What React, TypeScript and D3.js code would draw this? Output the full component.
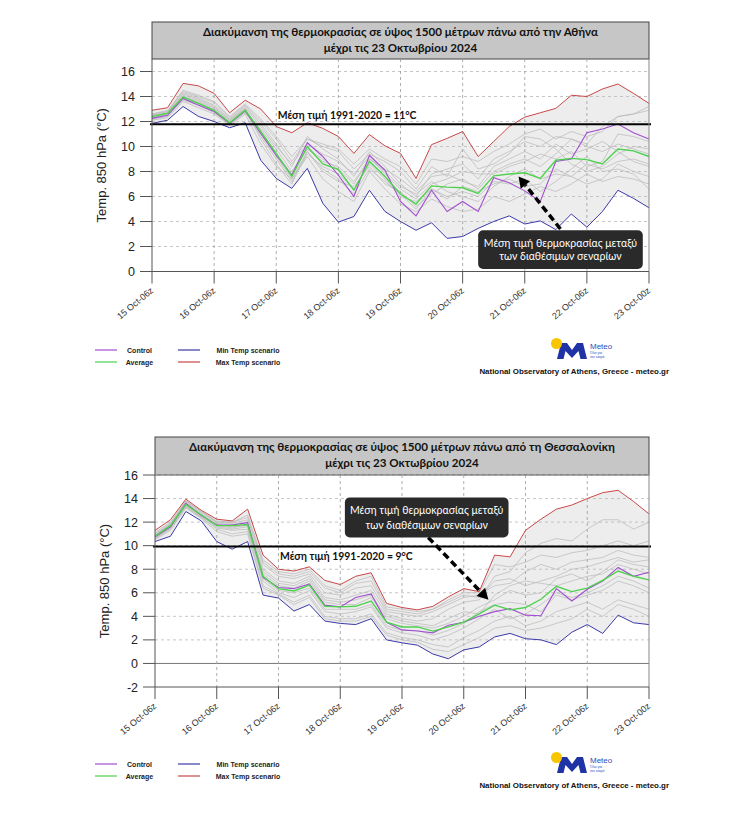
import * as d3 from "d3";

// x positions: 6-hourly steps from 15 Oct 06z, 33 steps
const tickLabels = [
  "15 Oct-06z", "16 Oct-06z", "17 Oct-06z", "18 Oct-06z", "19 Oct-06z",
  "20 Oct-06z", "21 Oct-06z", "22 Oct-06z", "23 Oct-00z",
];
const tickSteps = [0, 4, 8, 12, 16, 20, 24, 28, 32];

// ---- Athens ----
const athMax = [12.9, 13.1, 15.05, 14.85, 14.25, 12.7, 13.7, 13.0, 11.6, 11.1, 11.9, 11.45, 10.8, 9.45, 10.95, 10.05, 9.45, 7.45, 10.15, 10.65, 11.2, 9.2, 10.4, 11.6, 12.35, 12.7, 13.05, 14.1, 14.0, 14.6, 15.0, 14.25, 13.45];
const athMin = [11.85, 12.1, 13.2, 12.4, 12.0, 11.5, 11.9, 8.9, 7.45, 6.65, 8.25, 5.45, 3.95, 4.4, 6.5, 4.8, 4.0, 3.3, 3.9, 2.65, 2.8, 3.45, 4.0, 4.45, 3.8, 4.05, 3.35, 4.6, 3.55, 4.8, 6.5, 5.85, 5.1];
const athAvg = [12.4, 12.65, 13.95, 13.45, 12.9, 11.9, 12.9, 11.2, 9.45, 7.6, 10.0, 8.6, 8.15, 6.5, 8.8, 7.6, 6.2, 5.4, 6.85, 6.75, 6.7, 6.25, 7.65, 7.8, 7.9, 7.45, 8.9, 9.05, 8.95, 8.6, 9.8, 9.65, 9.2];
const athCtrl = [12.25, 12.5, 13.85, 13.3, 12.8, 11.85, 12.85, 11.05, 9.3, 7.7, 10.3, 9.2, 7.7, 6.0, 9.3, 8.1, 5.6, 4.45, 6.5, 4.8, 5.6, 4.8, 7.5, 7.1, 6.45, 5.6, 8.8, 9.0, 11.1, 11.4, 11.8, 11.1, 10.6];
const athMembers = [
  [12.5, 12.8, 14.3, 13.9, 13.3, 12.2, 13.2, 11.8, 10.2, 8.4, 10.8, 9.8, 9.0, 7.6, 9.6, 8.4, 7.0, 6.0, 7.8, 8.2, 8.6, 7.4, 9.0, 9.6, 10.4, 10.0, 10.8, 10.6, 10.2, 11.6, 12.4, 12.6, 12.9],
  [12.3, 12.6, 14.0, 13.6, 13.0, 12.0, 13.0, 10.6, 8.6, 7.0, 9.6, 8.0, 7.2, 6.8, 8.4, 7.0, 6.4, 5.2, 6.2, 7.0, 7.4, 6.6, 8.0, 8.6, 9.0, 8.4, 9.4, 10.6, 10.0, 9.6, 10.2, 9.8, 9.4],
  [12.2, 12.4, 13.8, 13.4, 12.8, 11.8, 12.7, 11.4, 9.8, 8.0, 9.8, 8.8, 8.4, 7.2, 9.0, 8.0, 6.8, 6.2, 7.2, 6.4, 6.0, 5.6, 6.8, 7.6, 8.2, 7.4, 7.8, 7.6, 7.0, 7.4, 8.6, 8.0, 7.6],
  [12.6, 12.9, 14.4, 14.0, 13.5, 12.3, 13.3, 12.0, 10.6, 8.8, 10.6, 10.0, 9.6, 8.2, 9.4, 8.8, 8.0, 6.6, 8.4, 7.6, 9.8, 8.2, 8.6, 9.4, 10.8, 10.6, 9.8, 8.6, 8.0, 8.4, 9.4, 10.0, 9.8],
  [12.1, 12.3, 13.6, 13.1, 12.6, 11.7, 12.6, 10.2, 8.4, 7.4, 9.2, 7.4, 6.4, 5.6, 8.0, 6.6, 5.4, 4.8, 5.8, 5.2, 4.8, 5.0, 6.0, 5.6, 6.2, 6.8, 6.4, 7.0, 7.8, 7.2, 7.6, 7.4, 7.0],
  [12.4, 12.7, 14.1, 13.7, 13.1, 12.1, 13.1, 11.6, 10.0, 8.6, 10.2, 9.4, 8.8, 7.8, 9.2, 7.8, 6.6, 5.8, 7.0, 7.4, 8.0, 7.8, 7.8, 8.4, 8.8, 9.4, 9.0, 9.6, 8.4, 8.8, 11.0, 10.8, 10.4],
  [12.3, 12.5, 13.9, 13.5, 12.9, 11.9, 12.8, 10.8, 9.0, 7.2, 9.4, 8.4, 7.8, 6.6, 8.6, 7.4, 6.0, 5.6, 6.6, 6.0, 6.4, 6.0, 7.2, 7.0, 7.4, 6.4, 7.2, 8.2, 9.2, 8.0, 8.2, 7.8, 6.6],
  [12.5, 12.7, 14.2, 13.8, 13.2, 12.1, 13.0, 11.2, 9.4, 7.8, 9.8, 9.0, 8.2, 7.0, 9.0, 8.2, 7.4, 6.4, 7.6, 7.8, 7.2, 6.8, 8.4, 9.0, 9.6, 9.0, 10.2, 9.4, 9.8, 10.4, 9.6, 8.8, 8.4],
  [12.2, 12.5, 13.7, 13.3, 12.7, 11.8, 12.8, 11.0, 9.2, 7.4, 9.6, 8.2, 7.4, 6.2, 8.2, 7.2, 6.2, 5.0, 6.6, 5.8, 6.8, 6.4, 7.0, 7.4, 6.8, 7.0, 8.2, 7.6, 8.6, 8.2, 8.8, 9.0, 8.6],
  [12.6, 12.8, 14.5, 14.1, 13.6, 12.4, 13.4, 12.2, 10.8, 9.2, 10.6, 10.2, 9.8, 8.6, 9.8, 9.0, 8.4, 7.0, 9.0, 8.8, 9.2, 8.8, 9.6, 10.2, 11.0, 11.4, 10.6, 11.2, 10.8, 11.2, 12.4, 12.6, 13.2],
];

// ---- Thessaloniki ----
const thesMax = [11.3, 12.2, 13.95, 13.0, 12.25, 12.1, 13.1, 9.2, 8.0, 7.85, 8.2, 7.05, 6.7, 7.4, 7.7, 5.1, 4.75, 4.55, 4.85, 5.65, 6.35, 6.1, 9.2, 9.05, 11.3, 12.25, 13.1, 13.45, 14.0, 14.5, 14.7, 13.75, 12.7];
const thesMin = [10.35, 10.8, 12.9, 12.1, 10.35, 9.7, 10.35, 5.8, 5.55, 4.45, 5.0, 3.6, 3.4, 3.3, 3.8, 2.0, 1.75, 1.55, 0.8, 0.4, 1.15, 1.4, 2.25, 2.55, 2.1, 2.0, 1.6, 2.65, 3.3, 2.55, 4.1, 3.45, 3.3];
const thesAvg = [10.8, 11.7, 13.5, 12.6, 11.7, 11.7, 11.8, 7.4, 6.35, 6.15, 6.65, 4.85, 4.8, 4.85, 5.3, 3.5, 3.1, 3.1, 2.75, 3.1, 3.5, 4.2, 4.95, 4.55, 4.75, 5.45, 6.55, 6.1, 6.4, 7.05, 7.85, 7.4, 7.1];
const thesCtrl = [10.75, 11.6, 13.6, 12.55, 11.75, 11.75, 11.95, 7.3, 6.45, 6.35, 6.75, 4.95, 4.8, 5.6, 5.9, 3.5, 2.85, 2.75, 2.6, 3.25, 3.5, 4.0, 4.4, 4.65, 4.1, 4.05, 6.35, 5.3, 6.3, 7.0, 8.15, 7.4, 7.75];
const thesMembers = [
  [10.9, 11.8, 13.6, 12.7, 11.9, 11.8, 12.0, 8.0, 7.0, 6.8, 7.4, 5.6, 5.4, 5.8, 6.2, 4.2, 3.8, 3.6, 3.8, 4.6, 5.2, 5.4, 7.4, 7.8, 9.4, 10.2, 10.6, 10.4, 11.4, 12.2, 12.2, 11.4, 12.0],
  [10.7, 11.5, 13.4, 12.5, 11.6, 11.4, 11.6, 7.0, 6.0, 5.6, 6.2, 4.4, 4.2, 4.4, 4.8, 3.0, 2.6, 2.4, 2.0, 2.4, 3.0, 3.8, 4.6, 3.8, 4.2, 5.0, 6.0, 5.6, 6.0, 6.6, 7.4, 7.0, 6.4],
  [11.0, 11.9, 13.7, 12.8, 12.0, 11.9, 12.2, 8.4, 7.4, 7.2, 7.6, 6.0, 5.8, 6.4, 6.6, 4.4, 4.2, 4.0, 4.4, 5.0, 5.6, 5.8, 6.6, 6.8, 7.8, 8.4, 8.0, 8.6, 8.8, 9.0, 9.6, 9.2, 9.0],
  [10.6, 11.4, 13.3, 12.4, 11.4, 11.0, 11.2, 6.6, 5.9, 5.2, 5.8, 4.0, 3.8, 3.8, 4.2, 2.6, 2.2, 2.0, 1.6, 1.4, 2.2, 2.8, 3.6, 4.0, 3.2, 3.6, 4.4, 4.8, 5.2, 4.6, 5.4, 5.0, 4.6],
  [10.8, 11.7, 13.5, 12.6, 11.8, 11.6, 11.7, 7.6, 6.6, 6.4, 7.0, 5.2, 5.0, 5.0, 5.6, 3.8, 3.4, 3.2, 3.0, 3.4, 4.0, 4.8, 5.4, 6.2, 5.8, 6.0, 7.2, 7.6, 7.0, 7.8, 8.8, 8.4, 8.2],
  [10.9, 11.8, 13.8, 12.9, 12.0, 12.0, 12.4, 8.6, 7.6, 7.4, 7.8, 6.4, 6.0, 6.8, 7.0, 4.6, 4.4, 4.2, 4.6, 5.2, 5.8, 5.6, 7.0, 7.2, 6.6, 7.0, 7.4, 8.0, 8.2, 8.6, 9.0, 8.6, 8.8],
  [10.6, 11.5, 13.3, 12.4, 11.5, 11.3, 11.4, 7.2, 6.2, 6.0, 6.4, 4.6, 4.6, 4.6, 5.0, 3.2, 2.8, 2.8, 2.4, 2.8, 3.4, 4.4, 5.0, 5.2, 5.0, 4.4, 5.8, 5.4, 5.8, 6.2, 7.0, 6.6, 6.0],
  [10.7, 11.6, 13.5, 12.6, 11.7, 11.5, 11.8, 7.8, 6.8, 6.6, 7.2, 5.4, 5.2, 5.4, 5.8, 4.0, 3.6, 3.4, 3.2, 3.8, 4.4, 4.2, 5.8, 6.6, 7.0, 6.8, 6.6, 7.0, 7.4, 7.6, 8.4, 8.0, 7.6],
  [10.5, 11.3, 13.2, 12.3, 11.2, 10.8, 11.0, 6.4, 5.8, 5.0, 5.6, 3.8, 3.6, 3.6, 4.0, 2.4, 2.0, 1.8, 1.2, 1.0, 1.6, 2.2, 3.0, 3.2, 2.8, 3.0, 3.4, 3.8, 4.6, 4.0, 5.0, 4.6, 4.0],
  [11.1, 12.0, 13.8, 12.9, 12.1, 12.0, 12.6, 8.8, 7.8, 7.6, 8.0, 6.6, 6.2, 7.0, 7.4, 4.8, 4.6, 4.4, 4.6, 5.4, 6.0, 6.0, 8.4, 8.2, 8.6, 9.2, 9.0, 9.4, 9.6, 10.0, 10.4, 10.0, 10.4],
];

const colors = {
  ctrl: "#a24fd0",
  avg: "#4fd04f",
  min: "#3a3aa8",
  max: "#c94848",
  member: "#b8b8b8",
  shade: "#ededed",
  grid: "#b8b8b8",
};

const greekFont = "Lato, 'Open Sans', sans-serif";
const axisFont = "'Liberation Sans', Arial, sans-serif";

interface ChartProps {
  top: number;
  x0: number;
  x1: number;
  yTop: number;
  yBottom: number;
  yDomain: [number, number];
  yTicks: number[];
  city: string;
  meanValue: number;
  meanLabel: string;
  meanLabelBelow: boolean;
  members: number[][];
  ctrl: number[];
  avg: number[];
  min: number[];
  max: number[];
  boxX: [number, number];
  boxY: [number, number];
  arrowFrom: [number, number];
  arrowTo: [number, number];
}

function Chart(p: ChartProps) {
  const x = d3.scaleLinear([0, 32], [p.x0, p.x1]);
  const y = d3.scaleLinear(p.yDomain, [p.yBottom, p.yTop]);
  const line = d3
    .line<number>()
    .x((d, i) => x(i))
    .y((d) => y(d));
  const area = d3
    .area<number>()
    .x((d, i) => x(i))
    .y0((d, i) => y(p.min[i]))
    .y1((d) => y(d));

  const titleTop = p.top;
  const titleH = p.yTop - p.top;

  // arrow geometry
  const ax1 = x(p.arrowFrom[0]);
  const ay1 = y(p.arrowFrom[1]);
  const ax2 = x(p.arrowTo[0]);
  const ay2 = y(p.arrowTo[1]);
  const ang = Math.atan2(ay2 - ay1, ax2 - ax1);
  const headL = 11;
  const headW = 6;
  const bx = ax2 - headL * Math.cos(ang);
  const by = ay2 - headL * Math.sin(ang);
  const head = [
    [ax2, ay2],
    [bx + headW * Math.sin(ang), by - headW * Math.cos(ang)],
    [bx - headW * Math.sin(ang), by + headW * Math.cos(ang)],
  ]
    .map((q) => q.join(","))
    .join(" ");

  const bX0 = x(p.boxX[0]);
  const bX1 = x(p.boxX[1]);
  const bY0 = y(p.boxY[0]);
  const bY1 = y(p.boxY[1]);

  return (
    <g>
      {/* title box */}
      <rect
        x={p.x0}
        y={titleTop}
        width={p.x1 - p.x0}
        height={titleH}
        fill="#c6c6c6"
        stroke="#444"
        strokeWidth={1}
      />
      <text
        x={(p.x0 + p.x1) / 2}
        y={titleTop + titleH * 0.38}
        textAnchor="middle"
        fontFamily={greekFont}
        fontWeight="bold"
        fontSize={11.6}
        fill="#111"
      >
        {`Διακύμανση της θερμοκρασίας σε ύψος 1500 μέτρων πάνω από ${p.city}`}
      </text>
      <text
        x={(p.x0 + p.x1) / 2}
        y={titleTop + titleH * 0.8}
        textAnchor="middle"
        fontFamily={greekFont}
        fontWeight="bold"
        fontSize={11.6}
        fill="#111"
      >
        μέχρι τις 23 Οκτωβρίου 2024
      </text>

      {/* spread between min and max scenario */}
      <path d={area(p.max) ?? ""} fill={colors.shade} />

      {/* grid */}
      {p.yTicks
        .filter((t) => t !== p.yDomain[0] && t !== 0)
        .map((t) => (
          <line
            key={"gy" + t}
            x1={p.x0}
            x2={p.x1}
            y1={y(t)}
            y2={y(t)}
            stroke={colors.grid}
            strokeWidth={0.8}
            strokeDasharray="3,3"
          />
        ))}
      {p.yDomain[0] < 0 && (
        <line x1={p.x0} x2={p.x1} y1={y(0)} y2={y(0)} stroke="#777" strokeWidth={1} />
      )}
      {tickSteps.slice(1, -1).map((s) => (
        <line
          key={"gx" + s}
          x1={x(s)}
          x2={x(s)}
          y1={p.yTop}
          y2={p.yBottom}
          stroke="#999"
          strokeWidth={0.8}
          strokeDasharray="3,3"
        />
      ))}

      {/* members */}
      {p.members.map((m, k) => (
        <path key={"m" + k} d={line(m) ?? ""} fill="none" stroke={colors.member} strokeWidth={0.7} />
      ))}
      <path d={line(p.min) ?? ""} fill="none" stroke={colors.min} strokeWidth={1} />
      <path d={line(p.max) ?? ""} fill="none" stroke={colors.max} strokeWidth={1} />
      <path d={line(p.ctrl) ?? ""} fill="none" stroke={colors.ctrl} strokeWidth={1.1} />
      <path d={line(p.avg) ?? ""} fill="none" stroke={colors.avg} strokeWidth={1.4} />

      {/* climatological mean */}
      <line
        x1={p.x0 - 2}
        x2={p.x1 + 2}
        y1={y(p.meanValue)}
        y2={y(p.meanValue)}
        stroke="#000"
        strokeWidth={2.2}
      />
      <text
        x={x(8.1)}
        y={p.meanLabelBelow ? y(p.meanValue) + 14 : y(p.meanValue) - 5}
        fontFamily={greekFont}
        fontWeight="bold"
        fontSize={10.4}
        fill="#111"
      >
        {p.meanLabel}
      </text>

      {/* frame */}
      <line x1={p.x0} x2={p.x0} y1={p.yTop} y2={p.yBottom} stroke="#555" strokeWidth={1} />
      <line x1={p.x1} x2={p.x1} y1={p.yTop} y2={p.yBottom} stroke="#888" strokeWidth={1} />
      <line x1={p.x0} x2={p.x1} y1={p.yBottom} y2={p.yBottom} stroke="#555" strokeWidth={1} />

      {/* y axis */}
      {p.yTicks.map((t) => (
        <g key={"yt" + t}>
          <line x1={p.x0 - 12} x2={p.x0} y1={y(t)} y2={y(t)} stroke="#555" strokeWidth={1} />
          <text
            x={p.x0 - 17}
            y={y(t) + 4.5}
            textAnchor="end"
            fontFamily={axisFont}
            fontSize={12.5}
            fill="#222"
          >
            {t}
          </text>
        </g>
      ))}
      <text
        transform={`translate(${p.x0 - 46},${(p.yTop + p.yBottom) / 2}) rotate(-90)`}
        textAnchor="middle"
        fontFamily={axisFont}
        fontSize={13}
        fill="#222"
      >
        Temp. 850 hPa (°C)
      </text>

      {/* x axis */}
      {tickSteps.map((s, i) => (
        <g key={"xt" + s}>
          <line x1={x(s)} x2={x(s)} y1={p.yBottom} y2={p.yBottom + 12} stroke="#555" strokeWidth={1} />
          <text
            transform={`translate(${x(s) + 2},${p.yBottom + 20}) rotate(-40)`}
            textAnchor="end"
            fontFamily={axisFont}
            fontSize={9}
            fill="#333"
          >
            {tickLabels[i]}
          </text>
        </g>
      ))}

      {/* annotation */}
      <line
        x1={ax1}
        y1={ay1}
        x2={bx}
        y2={by}
        stroke="#000"
        strokeWidth={3.5}
        strokeDasharray="7,4"
      />
      <polygon points={head} fill="#000" />
      <rect x={bX0} y={bY0} width={bX1 - bX0} height={bY1 - bY0} rx={5} fill="#2a2a2a" />
      <text
        x={(bX0 + bX1) / 2}
        y={bY0 + (bY1 - bY0) * 0.42}
        textAnchor="middle"
        fontFamily={greekFont}
        fontSize={10.5}
        fill="#fff"
      >
        Μέση τιμή θερμοκρασίας μεταξύ
      </text>
      <text
        x={(bX0 + bX1) / 2}
        y={bY0 + (bY1 - bY0) * 0.78}
        textAnchor="middle"
        fontFamily={greekFont}
        fontSize={10.5}
        fill="#fff"
      >
        των διαθέσιμων σεναρίων
      </text>
    </g>
  );
}

function Footer({ top }: { top: number }) {
  const items = [
    { label: "Control", color: colors.ctrl, lx: 95, tx: 139.5, row: 0 },
    { label: "Average", color: colors.avg, lx: 95, tx: 139.5, row: 1 },
    { label: "Min Temp scenario", color: colors.min, lx: 178, tx: 248, row: 0 },
    { label: "Max Temp scenario", color: colors.max, lx: 178, tx: 248, row: 1 },
  ];
  return (
    <g>
      {items.map((it) => (
        <g key={it.label}>
          <line
            x1={it.lx}
            x2={it.lx + 22}
            y1={top + it.row * 12}
            y2={top + it.row * 12}
            stroke={it.color}
            strokeWidth={1.2}
          />
          <text
            x={it.tx}
            y={top + it.row * 12 + 2.5}
            textAnchor="middle"
            fontFamily={axisFont}
            fontWeight="bold"
            fontSize={7}
            fill="#222"
          >
            {it.label}
          </text>
        </g>
      ))}
      {/* meteo logo */}
      <g transform={`translate(557,${top - 7})`}>
        <polygon
          points="0,16 4,0 10,0 15,7 20,0 26,0 30,16 23.5,16 21.5,8 15,15 8.5,8 6.5,16"
          fill="#1f33a6"
        />
        <circle cx={-0.5} cy={0.5} r={5.5} fill="#f7c600" />
        <text x={33} y={6} fontFamily={axisFont} fontSize={8} fill="#2d4fc0">
          Meteo
        </text>
        <text x={33} y={11} fontFamily={axisFont} fontSize={3.5} fill="#2d4fc0">
          Όλα για
        </text>
        <text x={33} y={14.5} fontFamily={axisFont} fontSize={3.5} fill="#2d4fc0">
          τον καιρό
        </text>
      </g>
      <text
        x={669}
        y={top + 23.5}
        textAnchor="end"
        fontFamily={axisFont}
        fontWeight="bold"
        fontSize={7.9}
        fill="#111"
      >
        National Observatory of Athens, Greece - meteo.gr
      </text>
    </g>
  );
}

export default function App() {
  return (
    <svg
      width={748}
      height={819}
      style={{ position: "absolute", left: 0, top: 0, background: "#fff" }}
    >
      <Chart
        top={22}
        x0={152}
        x1={649}
        yTop={59}
        yBottom={271.5}
        yDomain={[0, 17]}
        yTicks={[0, 2, 4, 6, 8, 10, 12, 14, 16]}
        city="την Αθήνα"
        meanValue={11.78}
        meanLabel="Μέση τιμή 1991-2020 = 11°C"
        meanLabelBelow={false}
        members={athMembers}
        ctrl={athCtrl}
        avg={athAvg}
        min={athMin}
        max={athMax}
        boxX={[21, 31.6]}
        boxY={[3.3, 0.2]}
        arrowFrom={[26.3, 3.4]}
        arrowTo={[23.6, 7.6]}
      />
      <Footer top={350} />
      <Chart
        top={437}
        x0={155}
        x1={649}
        yTop={475}
        yBottom={687}
        yDomain={[-2, 16]}
        yTicks={[-2, 0, 2, 4, 6, 8, 10, 12, 14, 16]}
        city="τη Θεσσαλονίκη"
        meanValue={9.93}
        meanLabel="Μέση τιμή 1991-2020 = 9°C"
        meanLabelBelow={true}
        members={thesMembers}
        ctrl={thesCtrl}
        avg={thesAvg}
        min={thesMin}
        max={thesMax}
        boxX={[12.3, 22.9]}
        boxY={[14.1, 10.7]}
        arrowFrom={[17.7, 10.7]}
        arrowTo={[21.6, 5.4]}
      />
      <Footer top={764} />
    </svg>
  );
}
